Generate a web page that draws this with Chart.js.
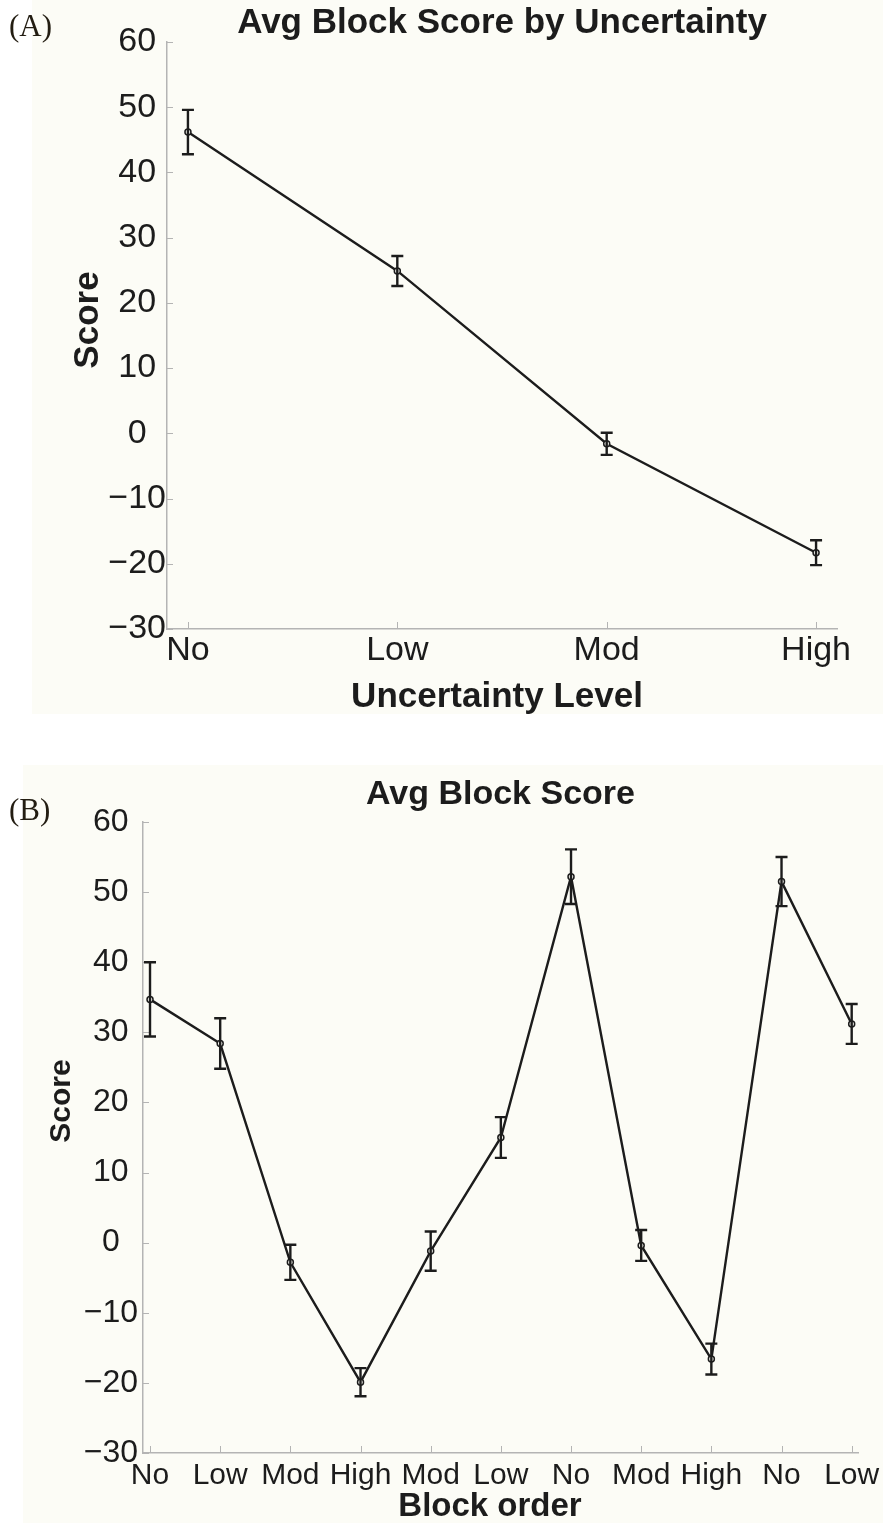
<!DOCTYPE html>
<html>
<head>
<meta charset="utf-8">
<script src="https://cdn.jsdelivr.net/npm/chart.js@4.4.1/dist/chart.umd.min.js"></script>
<style>
  html, body { margin: 0; padding: 0; background: #ffffff; }
  #chartA { position: absolute; left: 0; top: 0; }
  #chartB { position: absolute; left: 0; top: 740px; }
</style>
</head>
<body>
<canvas id="chartA" width="883" height="720"></canvas>
<canvas id="chartB" width="883" height="783"></canvas>
<script>
// Panel A: average block score per uncertainty level (mean and error)
const uncertaintyLevels = ['No', 'Low', 'Mod', 'High'];
const uncertaintyMeans  = [46.2, 24.9, -1.6, -18.3];
const uncertaintyErrors = [3.4, 2.3, 1.7, 1.9];

// Panel B: average score of each block in presentation order
const blockOrder  = ['No', 'Low', 'Mod', 'High', 'Mod', 'Low', 'No', 'Mod', 'High', 'No', 'Low'];
const blockMeans  = [34.7, 28.4, -2.8, -19.9, -1.2, 15.0, 52.2, -0.4, -16.6, 51.5, 31.2];
const blockErrors = [5.3, 3.6, 2.5, 2.0, 2.8, 2.9, 3.9, 2.2, 2.2, 3.5, 2.85];

// Shared score axis ticks
const scoreTicks = [-30, -20, -10, 0, 10, 20, 30, 40, 50, 60];

const SANS = "'Liberation Sans', Arial, Helvetica, sans-serif";
const SERIF = "'Liberation Serif', 'DejaVu Serif', serif";
const INK = '#1c1c1c';
const AXIS = '#b4b4b4';
const PANEL = '#fcfcf6';

const fmtScore = v => (v < 0 ? '\u2212' + Math.abs(v) : String(v));

// Panel background, error bars, inward tick marks and free text labels
function decorations(o) {
  return {
    id: 'decorations',
    beforeDraw(chart) {
      const ctx = chart.ctx;
      ctx.save();
      ctx.fillStyle = PANEL;
      ctx.fillRect(o.panel.x, o.panel.y, chart.width - o.panel.x, o.panel.h);
      ctx.restore();
    },
    afterDatasetsDraw(chart) {
      const ctx = chart.ctx;
      const area = chart.chartArea;
      const xs = chart.scales.x, ys = chart.scales.y;
      ctx.save();
      // inward ticks
      ctx.strokeStyle = AXIS;
      ctx.lineWidth = 1;
      ctx.beginPath();
      ys.ticks.forEach(t => {
        const y = Math.round(ys.getPixelForValue(t.value)) + 0.5;
        ctx.moveTo(area.left, y); ctx.lineTo(area.left + 6, y);
      });
      xs.ticks.forEach(t => {
        const x = Math.round(xs.getPixelForValue(t.value)) + 0.5;
        ctx.moveTo(x, area.bottom); ctx.lineTo(x, area.bottom - 7);
      });
      ctx.stroke();
      // error bars
      const meta = chart.getDatasetMeta(0);
      ctx.strokeStyle = INK;
      ctx.lineWidth = 2.4;
      ctx.beginPath();
      o.means.forEach((m, i) => {
        const x = meta.data[i].x;
        const yt = ys.getPixelForValue(m + o.errors[i]);
        const yb = ys.getPixelForValue(m - o.errors[i]);
        ctx.moveTo(x, yt); ctx.lineTo(x, yb);
        ctx.moveTo(x - o.cap, yt); ctx.lineTo(x + o.cap, yt);
        ctx.moveTo(x - o.cap, yb); ctx.lineTo(x + o.cap, yb);
      });
      ctx.stroke();
      ctx.restore();
    },
    afterDraw(chart) {
      const ctx = chart.ctx;
      ctx.save();
      // panel tag
      ctx.font = o.tag.font;
      ctx.textAlign = 'left';
      ctx.textBaseline = 'alphabetic';
      ctx.fillStyle = '#231d12';
      ctx.fillText(o.tag.text, o.tag.x, o.tag.y);
      ctx.fillStyle = INK;
      // x axis title
      ctx.font = o.xTitle.font;
      ctx.textAlign = 'center';
      ctx.fillText(o.xTitle.text, o.xTitle.x, o.xTitle.y);
      // y axis title
      ctx.translate(o.yTitle.x, o.yTitle.y);
      ctx.rotate(-Math.PI / 2);
      ctx.font = o.yTitle.font;
      ctx.textAlign = 'center';
      ctx.textBaseline = 'middle';
      ctx.fillText(o.yTitle.text, 0, 0);
      ctx.restore();
    }
  };
}

function buildChart(id, s) {
  const points = s.means.map((m, i) => ({ x: i + 1, y: m }));
  return new Chart(document.getElementById(id), {
    type: 'line',
    data: {
      datasets: [{
        data: points,
        borderColor: INK,
        borderWidth: 2.4,
        pointRadius: 3,
        pointBorderWidth: 1.5,
        pointBorderColor: INK,
        pointBackgroundColor: PANEL,
        tension: 0,
        fill: false
      }]
    },
    options: {
      responsive: false,
      animation: false,
      devicePixelRatio: 1,
      layout: { padding: { left: 0, right: s.padRight, top: 0, bottom: 0 } },
      plugins: {
        legend: { display: false },
        tooltip: { enabled: false },
        title: {
          display: true,
          text: s.title,
          fullSize: false,
          color: INK,
          font: { family: SANS, size: s.titleSize, weight: 'bold', lineHeight: 1 },
          padding: s.titlePad
        }
      },
      scales: {
        x: {
          type: 'linear',
          min: s.xMin,
          max: s.xMax,
          grid: { display: false, drawTicks: false },
          border: { display: true, color: AXIS, width: 1.5 },
          afterBuildTicks: sc => { sc.ticks = s.labels.map((_, i) => ({ value: i + 1 })); },
          afterFit: sc => { sc.height = s.xHeight; sc.paddingLeft = 0; sc.paddingRight = 0; },
          ticks: {
            autoSkip: false,
            maxRotation: 0,
            padding: s.xPad,
            color: INK,
            font: { family: SANS, size: s.xTickSize },
            callback: v => s.labels[Math.round(v) - 1]
          }
        },
        y: {
          min: -30,
          max: 60,
          grid: { display: false, drawTicks: false },
          border: { display: true, color: AXIS, width: 1.5 },
          afterBuildTicks: sc => { sc.ticks = scoreTicks.map(v => ({ value: v })); },
          afterFit: sc => { sc.width = s.yWidth; sc.paddingTop = 0; sc.paddingBottom = 0; },
          ticks: {
            crossAlign: 'center',
            padding: s.yPad,
            color: INK,
            font: { family: SANS, size: s.yTickSize },
            callback: v => fmtScore(v)
          }
        }
      }
    },
    plugins: [decorations(s.decor)]
  });
}

buildChart('chartA', {
  title: 'Avg Block Score by Uncertainty',
  titleSize: 35,
  titlePad: { top: 6, bottom: 1 },
  labels: uncertaintyLevels,
  means: uncertaintyMeans,
  xMin: 0.9, xMax: 4.1,
  padRight: 46,
  xHeight: 91,
  yWidth: 167,
  xPad: 1, yPad: 1,
  xTickSize: 34, yTickSize: 34,
  decor: {
    means: uncertaintyMeans,
    errors: uncertaintyErrors,
    cap: 6,
    panel: { x: 32, y: 0, h: 714 },
    tag: { text: '(A)', font: '31px ' + SERIF, x: 9, y: 36 },
    xTitle: { text: 'Uncertainty Level', font: 'bold 35px ' + SANS, x: 497, y: 707 },
    yTitle: { text: 'Score', font: 'bold 35px ' + SANS, x: 88, y: 320 }
  }
});

buildChart('chartB', {
  title: 'Avg Block Score',
  titleSize: 34,
  titlePad: { top: 38, bottom: 10 },
  labels: blockOrder,
  means: blockMeans,
  xMin: 0.9, xMax: 11.09,
  padRight: 25,
  xHeight: 70,
  yWidth: 143,
  xPad: 5, yPad: 5,
  xTickSize: 30, yTickSize: 32,
  decor: {
    means: blockMeans,
    errors: blockErrors,
    cap: 6,
    panel: { x: 23, y: 25, h: 783 },
    tag: { text: '(B)', font: '31px ' + SERIF, x: 9, y: 80 },
    xTitle: { text: 'Block order', font: 'bold 33px ' + SANS, x: 490, y: 776 },
    yTitle: { text: 'Score', font: 'bold 30px ' + SANS, x: 62, y: 361 }
  }
});
</script>
</body>
</html>
